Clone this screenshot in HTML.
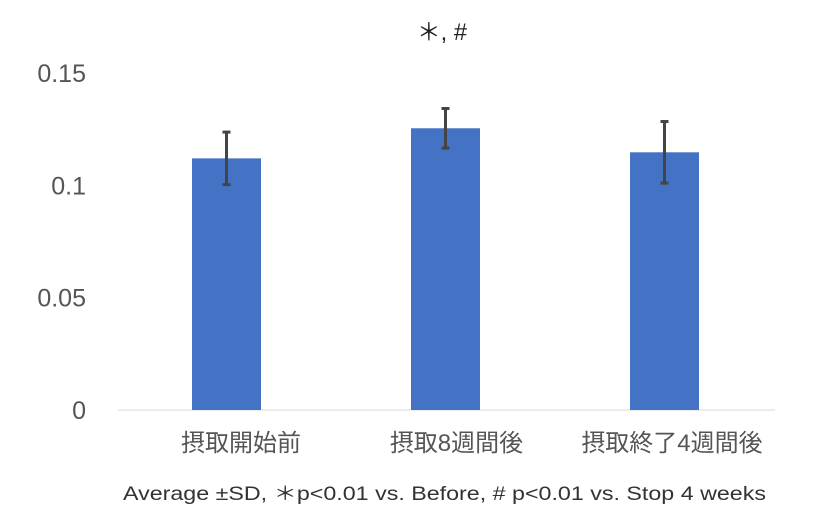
<!DOCTYPE html>
<html><head><meta charset="utf-8"><style>
body{margin:0;background:#fff;}
svg{display:block;font-family:"Liberation Sans","Noto Sans CJK JP",sans-serif;}
</style></head><body>
<svg id="chart" width="840" height="525">
<text x="442" y="40" font-size="24" fill="#222" text-anchor="middle" textLength="50" lengthAdjust="spacingAndGlyphs">＊, #</text>
<line x1="118" y1="410" x2="775" y2="410" stroke="#d9d9d9" stroke-width="1"/>
<g id="yticks"></g><g id="bars"></g><g id="xlabels"></g>
<text x="123" y="500" font-size="19" fill="#333" textLength="643" lengthAdjust="spacingAndGlyphs">Average ±SD, ＊p&lt;0.01 vs. Before, # p&lt;0.01 vs. Stop 4 weeks</text>
</svg>
<script>
const categories=["摂取開始前","摂取8週間後","摂取終了4週間後"];
const values=[0.112,0.1254,0.1147];
const sds=[0.0117,0.0088,0.0137];
const tickValues=[0,0.05,0.1,0.15];
const tickLabels=["0","0.05","0.1","0.15"];
const NS="http://www.w3.org/2000/svg";
const y=v=>410-v*2246.7;
const barX=i=>226.5+i*219;
const labelX=i=>241+i*215.5;
function mk(tag,attrs,parent){const e=document.createElementNS(NS,tag);for(const k in attrs)e.setAttribute(k,attrs[k]);parent.appendChild(e);return e;}
const yt=document.getElementById('yticks');
tickValues.forEach((v,i)=>{const t=mk('text',{x:86,y:y(v)+9,'font-size':25,fill:'#555','text-anchor':'end'},yt);t.textContent=tickLabels[i];

});
const bg=document.getElementById('bars');
values.forEach((v,i)=>{const cx=barX(i);
const r=mk('rect',{x:cx-34.5,y:y(v),width:69,height:y(0)-y(v),fill:'#4472c4'},bg);


const g=mk('g',{stroke:'#444','stroke-width':3},bg);


mk('line',{x1:cx,x2:cx,y1:y(v+sds[i]),y2:y(v-sds[i])},g);
mk('line',{x1:cx-4,x2:cx+4,y1:y(v+sds[i]),y2:y(v+sds[i])},g);
mk('line',{x1:cx-4,x2:cx+4,y1:y(v-sds[i]),y2:y(v-sds[i])},g);});
const xl=document.getElementById('xlabels');
categories.forEach((c,i)=>{const t=mk('text',{x:labelX(i),y:451,'font-size':24,fill:'#555','text-anchor':'middle'},xl);t.textContent=c;

});
</script>
</body></html>
